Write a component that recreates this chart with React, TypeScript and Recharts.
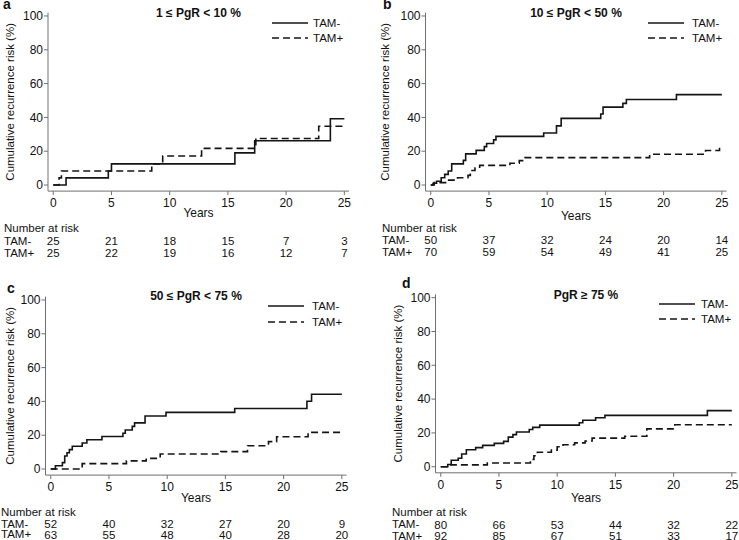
import React from 'react';
import { LineChart, Line, XAxis, YAxis, Label } from 'recharts';

const FONT = '"Liberation Sans", Arial, Helvetica, sans-serif';
const INK = '#111';
const AXIS = '#707070';

const yearTicks = [0, 5, 10, 15, 20, 25];
const riskTicks = [0, 20, 40, 60, 80, 100];

// [years, cumulative risk %] step points
const aMinus = [[0, 0], [1.1, 4.2], [4.73, 8.3], [5.0, 12.5], [15.6, 19.0], [17.3, 26.2], [23.8, 39.2], [25, 39.2]];
const aPlus = [[0, 0], [0.5, 4.2], [0.7, 8.3], [8.46, 12.5], [9.4, 17.2], [12.74, 21.7], [17.4, 27.5], [22.8, 34.8], [25, 34.8]];

const bMinus = [[0, 0], [0.2, 1], [0.5, 2.2], [0.9, 4.3], [1.2, 6.3], [1.5, 8.3], [1.8, 12.5], [2.8, 14.6], [3.0, 18.4], [3.9, 20.5], [4.6, 22.7], [4.8, 24.6], [5.4, 26.7], [5.6, 28.8], [9.7, 30.8], [10.8, 35], [11.2, 39.4], [14.6, 42], [14.8, 46.1], [16.5, 48.3], [16.8, 50.6], [21.1, 53.5], [25, 53.5]];
const bPlus = [[0, 0], [0.3, 1.4], [1.4, 2.9], [2.3, 4.3], [3.2, 5.7], [3.4, 8.6], [3.8, 10.1], [4.2, 11.6], [6.8, 12.9], [7.6, 14.4], [8.1, 16.2], [18.8, 18.2], [23.6, 20.4], [24.8, 22.8], [25, 22.8]];

const cMinus = [[0, 0], [0.4, 1.9], [1.0, 3.8], [1.2, 7.7], [1.4, 9.6], [1.6, 11.5], [1.85, 13.5], [2.7, 15.4], [3.1, 17.3], [4.4, 19.2], [6.2, 21.2], [6.4, 23.1], [7.0, 25.2], [7.2, 27.3], [8.1, 31.4], [9.9, 33.5], [15.8, 35.8], [22.0, 40.1], [22.4, 44.2], [25, 44.2]];
const cPlus = [[0, 0], [2.7, 3.2], [6.5, 4.8], [8.2, 6.3], [9.4, 8.9], [14.6, 10.3], [16.9, 13.8], [18.7, 16.2], [19.4, 19.1], [22.1, 21.7], [25, 21.7]];

const dMinus = [[0, 0], [0.6, 1.3], [0.9, 3.8], [1.5, 5.0], [1.8, 7.5], [2.2, 10.0], [3.0, 11.3], [3.6, 12.6], [4.6, 13.8], [5.4, 15.0], [5.8, 17.5], [6.2, 19.0], [6.5, 20.5], [7.6, 22.0], [7.9, 23.3], [8.5, 24.6], [11.9, 26.0], [12.2, 27.5], [13.3, 29.0], [14.1, 30.4], [22.9, 33.2], [25, 33.2]];
const dPlus = [[0, 0], [0.8, 1.1], [4.0, 2.2], [7.7, 4.3], [8.0, 6.5], [8.3, 8.6], [9.5, 9.8], [10.0, 11.8], [10.5, 13.0], [11.5, 14.1], [12.4, 15.2], [13.0, 16.9], [15.8, 18.0], [17.7, 22.4], [20.1, 24.8], [25, 24.8]];

// number at risk at 0, 5, 10, 15, 20, 25 years
const aRiskMinus = [25, 21, 18, 15, 7, 3];
const aRiskPlus = [25, 22, 19, 16, 12, 7];
const bRiskMinus = [50, 37, 32, 24, 20, 14];
const bRiskPlus = [70, 59, 54, 49, 41, 25];
const cRiskMinus = [52, 40, 32, 27, 20, 9];
const cRiskPlus = [63, 55, 48, 40, 28, 20];
const dRiskMinus = [80, 66, 53, 44, 32, 22];
const dRiskPlus = [92, 85, 67, 51, 33, 17];

const X_DOMAIN: [number, number] = [-0.45, 25.4];
const Y_DOMAIN: [number, number] = [-3.6, 102];
const PLOT_W = 301;
const PLOT_H = 178.5;

const toPoints = (pts: number[][]) => pts.map(([t, r]) => ({ t, r }));

const panels = [
  {
    letter: 'a', title: '1 ≤ PgR < 10 %', minus: aMinus, plus: aPlus, riskMinus: aRiskMinus, riskPlus: aRiskPlus,
    left: 0, top: 0, width: 370, yAxisW: 48, marginTop: 12.6, tickMargin: 3, yearsH: 26,
    rmH: 24, rmGap: 19.8, rpH: 14, rpGap: 7.8, bottom: 8, labelOffset: 10,
    legLine: 272, legText: 313, legY: [23, 38], tableX: 4, tableY: [228, 241, 253],
    letterX: 3, letterBase: 9.4, titleY: 13,
  },
  {
    letter: 'b', title: '10 ≤ PgR < 50 %', minus: bMinus, plus: bPlus, riskMinus: bRiskMinus, riskPlus: bRiskPlus,
    left: 370, top: 0, width: 369, yAxisW: 55.5, marginTop: 12.6, tickMargin: 3.6, yearsH: 28.4,
    rmH: 20.5, rmGap: 16.4, rpH: 14, rpGap: 7.9, bottom: 8, labelOffset: 15,
    legLine: 648, legText: 692, legY: [23, 38], tableX: 382, tableY: [228, 240, 252],
    letterX: 383, letterBase: 9.8, titleY: 13,
  },
  {
    letter: 'c', title: '50 ≤ PgR < 75 %', minus: cMinus, plus: cPlus, riskMinus: cRiskMinus, riskPlus: cRiskPlus,
    left: 0, top: 270, width: 370, yAxisW: 45.5, marginTop: 26.6, tickMargin: 3.6, yearsH: 26.9,
    rmH: 22, rmGap: 17.9, rpH: 11, rpGap: 6.4, bottom: 8, labelOffset: 10,
    legLine: 268, legText: 312, legY: [306, 322], tableX: 1, tableY: [512, 524, 534.5],
    letterX: 7, letterBase: 293.3, titleY: 296,
  },
  {
    letter: 'd', title: 'PgR ≥ 75 %', minus: dMinus, plus: dPlus, riskMinus: dRiskMinus, riskPlus: dRiskPlus,
    left: 370, top: 270, width: 369, yAxisW: 65.5, marginTop: 24.3, tickMargin: 3.9, yearsH: 29.2,
    rmH: 22.5, rmGap: 18.4, rpH: 11.5, rpGap: 7.4, bottom: 8, labelOffset: 27.7,
    legLine: 659, legText: 701, legY: [304, 319], tableX: 392, tableY: [512.5, 524.5, 536],
    letterX: 402, letterBase: 288.3, titleY: 295,
  },
];

type PanelSpec = (typeof panels)[number];

const textAt = (left: number, cy: number, size = 11.5): React.CSSProperties => ({
  position: 'absolute', left, top: cy - 4.5, height: 9, lineHeight: '9px',
  fontSize: size, color: INK, whiteSpace: 'nowrap', fontFamily: FONT,
});

function Panel({ p }: { p: PanelSpec }) {
  const chartH = p.marginTop + PLOT_H + p.yearsH + p.rmH + p.rpH + p.bottom;
  const plotCx = p.left + p.yAxisW + PLOT_W / 2;
  const fmt = (counts: number[]) => (v: number) => String(counts[yearTicks.indexOf(v)] ?? '');
  return (
    <>
      <div style={{ position: 'absolute', left: p.left, top: p.top }}>
        <LineChart
          width={p.width}
          height={chartH}
          margin={{ top: p.marginTop, right: p.width - p.yAxisW - PLOT_W, bottom: p.bottom, left: 0 }}
          style={{ fontFamily: FONT }}
        >
          <XAxis
            xAxisId="main" type="number" dataKey="t" domain={X_DOMAIN} allowDataOverflow
            ticks={yearTicks} interval={0} height={p.yearsH}
            tickSize={4} tickMargin={p.tickMargin} stroke={AXIS}
            tick={{ fill: INK, fontSize: 12 }}
          >
            <Label value="Years" position="insideBottom" offset={0} fill={INK} fontSize={12} />
          </XAxis>
          <XAxis
            xAxisId="rm" type="number" dataKey="t" domain={X_DOMAIN} allowDataOverflow
            ticks={yearTicks} interval={0} height={p.rmH}
            axisLine={false} tickLine={false} tickSize={0} tickMargin={p.rmGap}
            tick={{ fill: INK, fontSize: 11.5 }} tickFormatter={fmt(p.riskMinus)}
          />
          <XAxis
            xAxisId="rp" type="number" dataKey="t" domain={X_DOMAIN} allowDataOverflow
            ticks={yearTicks} interval={0} height={p.rpH}
            axisLine={false} tickLine={false} tickSize={0} tickMargin={p.rpGap}
            tick={{ fill: INK, fontSize: 11.5 }} tickFormatter={fmt(p.riskPlus)}
          />
          <YAxis
            type="number" domain={Y_DOMAIN} allowDataOverflow ticks={riskTicks} interval={0}
            width={p.yAxisW} tickSize={4} tickMargin={1} stroke={AXIS}
            tick={{ fill: INK, fontSize: 12 }}
          >
            <Label
              value="Cumulative recurrence risk (%)" angle={-90} position="insideLeft"
              offset={p.labelOffset} fill={INK} fontSize={11.5} style={{ textAnchor: 'middle' }}
            />
          </YAxis>
          <Line
            xAxisId="main" data={toPoints(p.minus)} dataKey="r" name="TAM-" type="stepAfter"
            stroke="#141414" strokeWidth={1.6} dot={false} isAnimationActive={false}
          />
          <Line
            xAxisId="main" data={toPoints(p.plus)} dataKey="r" name="TAM+" type="stepAfter"
            stroke="#141414" strokeWidth={1.6} strokeDasharray="7 4" dot={false} isAnimationActive={false}
          />
        </LineChart>
      </div>

      <div style={{ position: 'absolute', left: p.letterX, top: p.letterBase - 9.35, fontSize: 14, lineHeight: '9px', height: 9, fontWeight: 'bold', color: INK, fontFamily: FONT }}>
        {p.letter}
      </div>
      <div style={{ ...textAt(plotCx - 60, p.titleY, 12), width: 120, textAlign: 'center', fontWeight: 'bold', height: 14, lineHeight: '14px', top: p.titleY - 7 }}>
        {p.title}
      </div>

      {['TAM-', 'TAM+'].map((name, i) => (
        <React.Fragment key={name}>
          <svg style={{ position: 'absolute', left: p.legLine, top: p.legY[i] - 2 }} width={36} height={4}>
            <line x1={0} y1={2} x2={36} y2={2} stroke="#141414" strokeWidth={1.6} strokeDasharray={i ? '7 4' : undefined} />
          </svg>
          <div style={textAt(p.legText, p.legY[i])}>{name}</div>
        </React.Fragment>
      ))}

      <div style={textAt(p.tableX, p.tableY[0])}>Number at risk</div>
      <div style={textAt(p.tableX, p.tableY[1])}>TAM-</div>
      <div style={textAt(p.tableX, p.tableY[2])}>TAM+</div>
    </>
  );
}

export default function App() {
  return (
    <div style={{ position: 'absolute', left: 0, top: 0, width: 739, height: 540, overflow: 'hidden', background: '#fff', fontFamily: FONT }}>
      {panels.map((p) => (
        <Panel key={p.letter} p={p} />
      ))}
    </div>
  );
}
